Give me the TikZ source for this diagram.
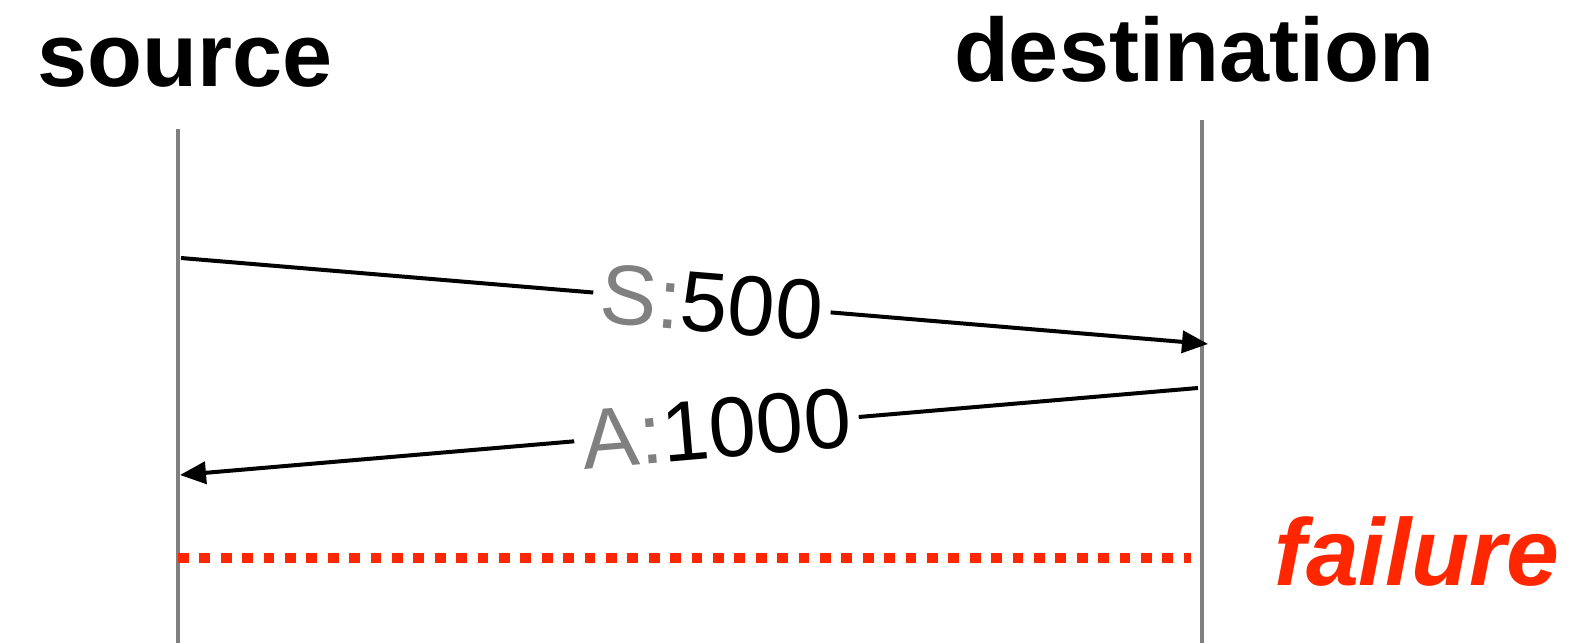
\documentclass[tikz,border=0pt]{standalone}
\usepackage{fontspec}
\setmainfont{Liberation Sans}
\usetikzlibrary{arrows.meta}
\definecolor{lifegray}{RGB}{128,128,128}
\definecolor{failred}{RGB}{255,38,0}
\begin{document}
\begin{tikzpicture}[x=1pt,y=-1pt,
  lifeline/.style={draw=lifegray,line width=4.5pt},
  msg/.style={draw=black,line width=4pt,-{Triangle[length=26pt,width=22pt]}},
  msglabel/.style={fill=white,sloped,inner sep=8pt,font=\fontsize{85}{100}\selectfont},
  title/.style={font=\fontsize{90}{100}\selectfont\bfseries,anchor=base,inner sep=0pt},
  failline/.style={draw=failred,line width=10pt,dash pattern=on 10.7pt off 10.7pt}]
\useasboundingbox (0,0) rectangle (1588,643);
% participants
\node[title] (src) at (185,86) {source};
\node[title] (dst) at (1194,81) {destination};
% lifelines
\coordinate (srctop) at (178,129);
\coordinate (srcbot) at (178,643);
\coordinate (dsttop) at (1202,120);
\coordinate (dstbot) at (1202,643);
\draw[lifeline] (srctop) -- (srcbot);
\draw[lifeline] (dsttop) -- (dstbot);
% messages
\coordinate (s1) at (181,258);
\coordinate (d1) at (1208,344);
\coordinate (d2) at (1198,388);
\coordinate (s2) at (180,475);
\draw[msg] (s1) -- node[msglabel,pos=0.517] (lab1) {\textcolor{lifegray}{S:}500} (d1);
\draw[msg] (d2) -- node[msglabel,pos=0.473] (lab2) {\textcolor{lifegray}{A:}1000} (s2);
% failure
\coordinate (f1) at (178,558);
\coordinate (f2) at (1191,558);
\draw[failline] (f1) -- (f2);
\node[font=\fontsize{95}{100}\selectfont\bfseries\itshape,text=failred,anchor=base,inner sep=0pt] (fail) at (1417,585) {failure};
\end{tikzpicture}
\end{document}
